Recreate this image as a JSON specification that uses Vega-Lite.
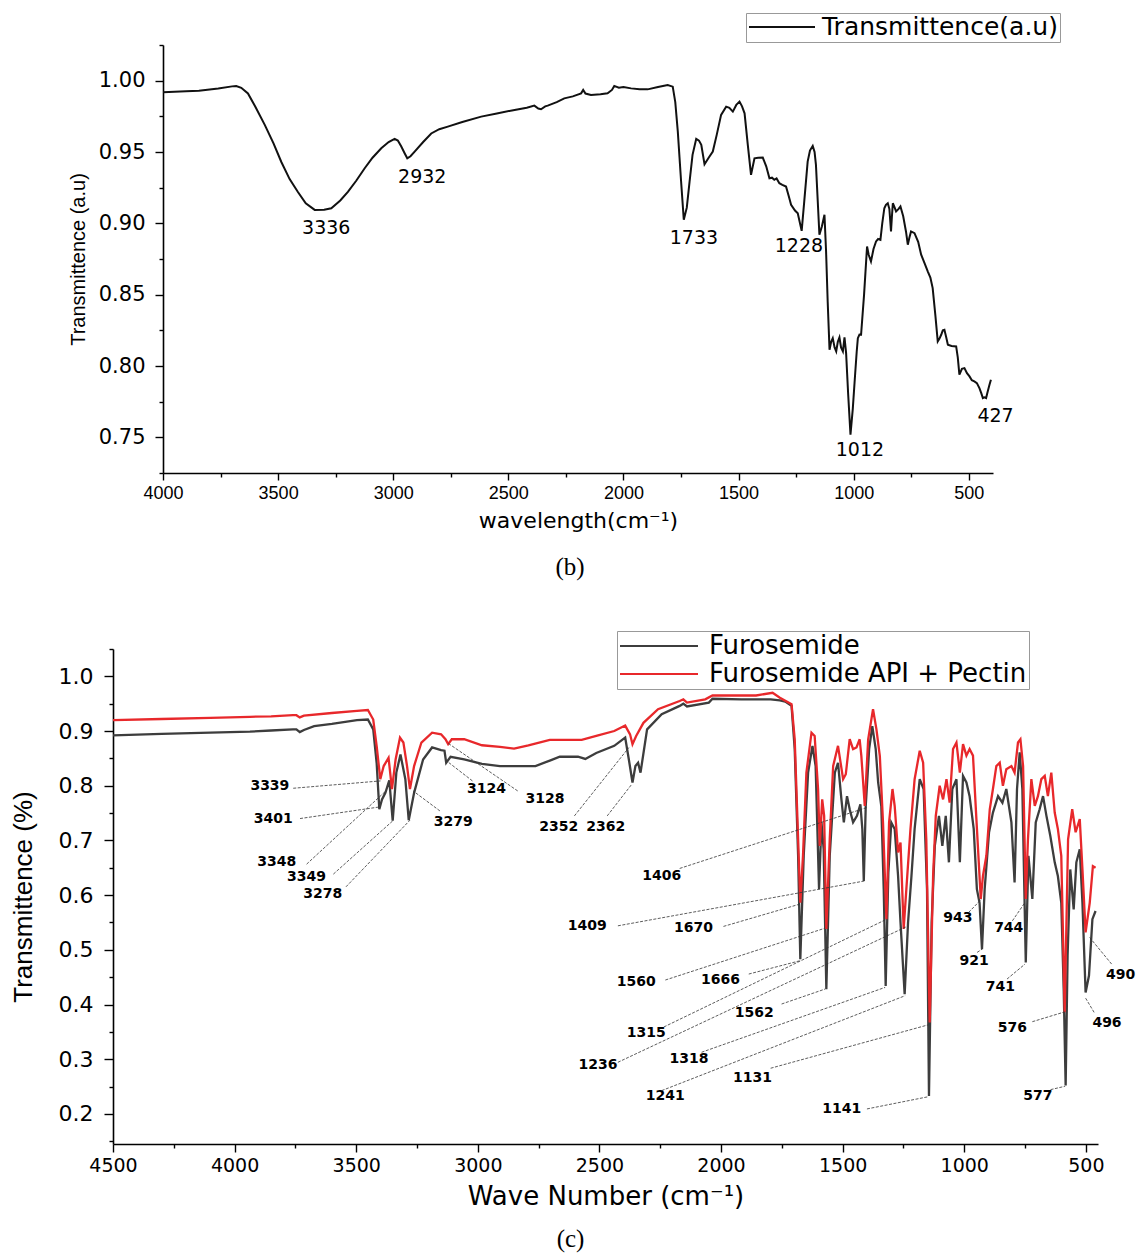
{
  "$schema": "https://vega.github.io/schema/vega-lite/v6.json",
  "background": "white",
  "padding": {"left": 9, "top": 12, "right": 5, "bottom": 2},
  "config": {
    "view": {"stroke": null},
    "axis": {"grid": false, "domainColor": "black", "tickColor": "black", "labelColor": "black", "titleColor": "black", "domainWidth": 1.6, "tickWidth": 1.4, "titleFontWeight": "normal"},
    "title": {"color": "black", "fontWeight": "normal"}
  },
  "datasets": {
    "top": [
      {"w":4000,"t":0.9918},{"w":3900,"t":0.9925},{"w":3844,"t":0.993},{"w":3760,"t":0.9945},{"w":3700,"t":0.996},{"w":3682,"t":0.9963},{"w":3660,"t":0.995},{"w":3631,"t":0.991},{"w":3600,"t":0.982},{"w":3558,"t":0.969},{"w":3520,"t":0.956},{"w":3486,"t":0.943},{"w":3450,"t":0.931},{"w":3414,"t":0.922},{"w":3380,"t":0.914},{"w":3341,"t":0.9094},{"w":3300,"t":0.9095},{"w":3269,"t":0.9106},{"w":3230,"t":0.916},{"w":3197,"t":0.922},{"w":3160,"t":0.93},{"w":3124,"t":0.9386},{"w":3090,"t":0.946},{"w":3052,"t":0.9526},{"w":3020,"t":0.957},{"w":2994,"t":0.9592},{"w":2980,"t":0.958},{"w":2965,"t":0.9538},{"w":2950,"t":0.949},{"w":2939,"t":0.9456},{"w":2925,"t":0.947},{"w":2907,"t":0.9503},{"w":2870,"t":0.957},{"w":2835,"t":0.963},{"w":2800,"t":0.966},{"w":2763,"t":0.9678},{"w":2700,"t":0.971},{"w":2618,"t":0.9748},{"w":2550,"t":0.977},{"w":2473,"t":0.9795},{"w":2420,"t":0.981},{"w":2387,"t":0.9825},{"w":2370,"t":0.9805},{"w":2358,"t":0.98},{"w":2340,"t":0.982},{"w":2329,"t":0.9825},{"w":2290,"t":0.985},{"w":2257,"t":0.9876},{"w":2220,"t":0.989},{"w":2184,"t":0.9911},{"w":2175,"t":0.9935},{"w":2165,"t":0.991},{"w":2141,"t":0.99},{"w":2100,"t":0.9905},{"w":2069,"t":0.9911},{"w":2050,"t":0.9935},{"w":2040,"t":0.9963},{"w":2020,"t":0.995},{"w":2000,"t":0.9955},{"w":1967,"t":0.9946},{"w":1930,"t":0.994},{"w":1895,"t":0.9939},{"w":1850,"t":0.9955},{"w":1808,"t":0.997},{"w":1786,"t":0.9958},{"w":1775,"t":0.985},{"w":1764,"t":0.9643},{"w":1750,"t":0.93},{"w":1738,"t":0.9025},{"w":1725,"t":0.911},{"w":1713,"t":0.929},{"w":1700,"t":0.948},{"w":1684,"t":0.9592},{"w":1672,"t":0.958},{"w":1662,"t":0.955},{"w":1648,"t":0.9414},{"w":1630,"t":0.946},{"w":1612,"t":0.9503},{"w":1595,"t":0.962},{"w":1576,"t":0.976},{"w":1554,"t":0.9818},{"w":1540,"t":0.981},{"w":1525,"t":0.9783},{"w":1510,"t":0.983},{"w":1496,"t":0.9853},{"w":1485,"t":0.982},{"w":1474,"t":0.9771},{"w":1460,"t":0.955},{"w":1446,"t":0.934},{"w":1431,"t":0.9456},{"w":1415,"t":0.946},{"w":1395,"t":0.9461},{"w":1380,"t":0.94},{"w":1366,"t":0.9316},{"w":1355,"t":0.932},{"w":1345,"t":0.9305},{"w":1335,"t":0.9315},{"w":1323,"t":0.9281},{"w":1310,"t":0.927},{"w":1294,"t":0.9258},{"w":1282,"t":0.919},{"w":1272,"t":0.913},{"w":1255,"t":0.909},{"w":1243,"t":0.9071},{"w":1226,"t":0.8947},{"w":1215,"t":0.915},{"w":1200,"t":0.9433},{"w":1190,"t":0.951},{"w":1178,"t":0.9543},{"w":1170,"t":0.95},{"w":1164,"t":0.941},{"w":1149,"t":0.892},{"w":1138,"t":0.898},{"w":1127,"t":0.906},{"w":1120,"t":0.8803},{"w":1113,"t":0.845},{"w":1105,"t":0.8114},{"w":1098,"t":0.817},{"w":1091,"t":0.8195},{"w":1083,"t":0.813},{"w":1076,"t":0.8102},{"w":1069,"t":0.817},{"w":1062,"t":0.82},{"w":1055,"t":0.813},{"w":1047,"t":0.8102},{"w":1040,"t":0.82},{"w":1033,"t":0.809},{"w":1024,"t":0.78},{"w":1014,"t":0.7519},{"w":1004,"t":0.77},{"w":994,"t":0.7939},{"w":987,"t":0.81},{"w":982,"t":0.8195},{"w":975,"t":0.822},{"w":968,"t":0.8219},{"w":955,"t":0.85},{"w":942,"t":0.8838},{"w":935,"t":0.878},{"w":925,"t":0.8733},{"w":914,"t":0.882},{"w":903,"t":0.8873},{"w":894,"t":0.889},{"w":884,"t":0.8884},{"w":876,"t":0.9},{"w":867,"t":0.9106},{"w":860,"t":0.913},{"w":852,"t":0.9141},{"w":845,"t":0.91},{"w":838,"t":0.8943},{"w":834,"t":0.905},{"w":830,"t":0.9141},{"w":822,"t":0.911},{"w":816,"t":0.9083},{"w":806,"t":0.91},{"w":797,"t":0.9118},{"w":785,"t":0.905},{"w":773,"t":0.8943},{"w":765,"t":0.885},{"w":758,"t":0.89},{"w":751,"t":0.8943},{"w":736,"t":0.8931},{"w":720,"t":0.887},{"w":707,"t":0.878},{"w":692,"t":0.872},{"w":678,"t":0.8662},{"w":667,"t":0.862},{"w":657,"t":0.8546},{"w":645,"t":0.835},{"w":635,"t":0.8172},{"w":628,"t":0.819},{"w":620,"t":0.8219},{"w":613,"t":0.825},{"w":606,"t":0.8254},{"w":598,"t":0.82},{"w":591,"t":0.8149},{"w":575,"t":0.814},{"w":555,"t":0.8137},{"w":548,"t":0.806},{"w":541,"t":0.7939},{"w":530,"t":0.798},{"w":519,"t":0.7985},{"w":508,"t":0.795},{"w":497,"t":0.7927},{"w":487,"t":0.79},{"w":476,"t":0.7892},{"w":465,"t":0.788},{"w":454,"t":0.7845},{"w":446,"t":0.781},{"w":439,"t":0.7775},{"w":432,"t":0.778},{"w":425,"t":0.7775},{"w":418,"t":0.7822},{"w":410,"t":0.787},{"w":404,"t":0.7904}
    ],
    "topLabels": [
      {"w":3291,"t":0.8966,"label":"3336"},{"w":2874,"t":0.9328,"label":"2932"},{"w":1694,"t":0.89,"label":"1733"},{"w":1238,"t":0.8838,"label":"1228"},{"w":973,"t":0.7409,"label":"1012"},{"w":384,"t":0.7647,"label":"427"}
    ],
    "bottom": [
      {"s":"Furosemide","w":4500,"t":0.892},{"s":"Furosemide","w":4300,"t":0.895},{"s":"Furosemide","w":4100,"t":0.897},{"s":"Furosemide","w":3937,"t":0.899},{"s":"Furosemide","w":3850,"t":0.901},{"s":"Furosemide","w":3760,"t":0.903},{"s":"Furosemide","w":3746,"t":0.903},{"s":"Furosemide","w":3732,"t":0.898},{"s":"Furosemide","w":3715,"t":0.902},{"s":"Furosemide","w":3673,"t":0.909},{"s":"Furosemide","w":3600,"t":0.913},{"s":"Furosemide","w":3497,"t":0.92},{"s":"Furosemide","w":3452,"t":0.921},{"s":"Furosemide","w":3430,"t":0.903},{"s":"Furosemide","w":3416,"t":0.842},{"s":"Furosemide","w":3405,"t":0.757},{"s":"Furosemide","w":3394,"t":0.775},{"s":"Furosemide","w":3380,"t":0.787},{"s":"Furosemide","w":3364,"t":0.81},{"s":"Furosemide","w":3350,"t":0.736},{"s":"Furosemide","w":3335,"t":0.824},{"s":"Furosemide","w":3318,"t":0.857},{"s":"Furosemide","w":3298,"t":0.812},{"s":"Furosemide","w":3284,"t":0.737},{"s":"Furosemide","w":3262,"t":0.787},{"s":"Furosemide","w":3225,"t":0.848},{"s":"Furosemide","w":3188,"t":0.87},{"s":"Furosemide","w":3151,"t":0.865},{"s":"Furosemide","w":3137,"t":0.864},{"s":"Furosemide","w":3130,"t":0.842},{"s":"Furosemide","w":3112,"t":0.853},{"s":"Furosemide","w":3056,"t":0.848},{"s":"Furosemide","w":2983,"t":0.84},{"s":"Furosemide","w":2909,"t":0.836},{"s":"Furosemide","w":2836,"t":0.836},{"s":"Furosemide","w":2763,"t":0.836},{"s":"Furosemide","w":2704,"t":0.846},{"s":"Furosemide","w":2663,"t":0.853},{"s":"Furosemide","w":2588,"t":0.853},{"s":"Furosemide","w":2558,"t":0.849},{"s":"Furosemide","w":2513,"t":0.86},{"s":"Furosemide","w":2439,"t":0.873},{"s":"Furosemide","w":2394,"t":0.888},{"s":"Furosemide","w":2379,"t":0.848},{"s":"Furosemide","w":2364,"t":0.806},{"s":"Furosemide","w":2352,"t":0.836},{"s":"Furosemide","w":2341,"t":0.842},{"s":"Furosemide","w":2331,"t":0.824},{"s":"Furosemide","w":2304,"t":0.903},{"s":"Furosemide","w":2244,"t":0.931},{"s":"Furosemide","w":2170,"t":0.946},{"s":"Furosemide","w":2155,"t":0.95},{"s":"Furosemide","w":2140,"t":0.945},{"s":"Furosemide","w":2050,"t":0.952},{"s":"Furosemide","w":2035,"t":0.959},{"s":"Furosemide","w":1916,"t":0.958},{"s":"Furosemide","w":1796,"t":0.958},{"s":"Furosemide","w":1758,"t":0.956},{"s":"Furosemide","w":1736,"t":0.954},{"s":"Furosemide","w":1710,"t":0.946},{"s":"Furosemide","w":1697,"t":0.867},{"s":"Furosemide","w":1683,"t":0.672},{"s":"Furosemide","w":1674,"t":0.483},{"s":"Furosemide","w":1660,"t":0.672},{"s":"Furosemide","w":1642,"t":0.824},{"s":"Furosemide","w":1624,"t":0.873},{"s":"Furosemide","w":1611,"t":0.836},{"s":"Furosemide","w":1597,"t":0.611},{"s":"Furosemide","w":1587,"t":0.733},{"s":"Furosemide","w":1578,"t":0.684},{"s":"Furosemide","w":1567,"t":0.428},{"s":"Furosemide","w":1553,"t":0.672},{"s":"Furosemide","w":1532,"t":0.824},{"s":"Furosemide","w":1519,"t":0.842},{"s":"Furosemide","w":1505,"t":0.775},{"s":"Furosemide","w":1495,"t":0.733},{"s":"Furosemide","w":1482,"t":0.781},{"s":"Furosemide","w":1471,"t":0.757},{"s":"Furosemide","w":1457,"t":0.733},{"s":"Furosemide","w":1441,"t":0.745},{"s":"Furosemide","w":1427,"t":0.766},{"s":"Furosemide","w":1419,"t":0.721},{"s":"Furosemide","w":1413,"t":0.626},{"s":"Furosemide","w":1405,"t":0.763},{"s":"Furosemide","w":1391,"t":0.867},{"s":"Furosemide","w":1378,"t":0.909},{"s":"Furosemide","w":1364,"t":0.867},{"s":"Furosemide","w":1354,"t":0.806},{"s":"Furosemide","w":1341,"t":0.763},{"s":"Furosemide","w":1331,"t":0.611},{"s":"Furosemide","w":1323,"t":0.434},{"s":"Furosemide","w":1312,"t":0.641},{"s":"Furosemide","w":1300,"t":0.733},{"s":"Furosemide","w":1286,"t":0.721},{"s":"Furosemide","w":1272,"t":0.635},{"s":"Furosemide","w":1262,"t":0.55},{"s":"Furosemide","w":1245,"t":0.419},{"s":"Furosemide","w":1231,"t":0.55},{"s":"Furosemide","w":1217,"t":0.635},{"s":"Furosemide","w":1204,"t":0.721},{"s":"Furosemide","w":1183,"t":0.812},{"s":"Furosemide","w":1167,"t":0.794},{"s":"Furosemide","w":1153,"t":0.611},{"s":"Furosemide","w":1145,"t":0.233},{"s":"Furosemide","w":1134,"t":0.55},{"s":"Furosemide","w":1121,"t":0.69},{"s":"Furosemide","w":1104,"t":0.745},{"s":"Furosemide","w":1090,"t":0.69},{"s":"Furosemide","w":1076,"t":0.745},{"s":"Furosemide","w":1063,"t":0.66},{"s":"Furosemide","w":1049,"t":0.794},{"s":"Furosemide","w":1032,"t":0.812},{"s":"Furosemide","w":1018,"t":0.66},{"s":"Furosemide","w":1005,"t":0.818},{"s":"Furosemide","w":991,"t":0.806},{"s":"Furosemide","w":978,"t":0.781},{"s":"Furosemide","w":961,"t":0.721},{"s":"Furosemide","w":948,"t":0.611},{"s":"Furosemide","w":937,"t":0.586},{"s":"Furosemide","w":927,"t":0.501},{"s":"Furosemide","w":916,"t":0.611},{"s":"Furosemide","w":898,"t":0.715},{"s":"Furosemide","w":882,"t":0.751},{"s":"Furosemide","w":861,"t":0.781},{"s":"Furosemide","w":843,"t":0.769},{"s":"Furosemide","w":827,"t":0.794},{"s":"Furosemide","w":806,"t":0.733},{"s":"Furosemide","w":793,"t":0.623},{"s":"Furosemide","w":783,"t":0.794},{"s":"Furosemide","w":772,"t":0.861},{"s":"Furosemide","w":761,"t":0.794},{"s":"Furosemide","w":747,"t":0.477},{"s":"Furosemide","w":736,"t":0.672},{"s":"Furosemide","w":720,"t":0.593},{"s":"Furosemide","w":706,"t":0.733},{"s":"Furosemide","w":690,"t":0.757},{"s":"Furosemide","w":676,"t":0.781},{"s":"Furosemide","w":662,"t":0.745},{"s":"Furosemide","w":646,"t":0.708},{"s":"Furosemide","w":628,"t":0.66},{"s":"Furosemide","w":615,"t":0.635},{"s":"Furosemide","w":601,"t":0.586},{"s":"Furosemide","w":591,"t":0.428},{"s":"Furosemide","w":583,"t":0.252},{"s":"Furosemide","w":575,"t":0.489},{"s":"Furosemide","w":564,"t":0.647},{"s":"Furosemide","w":550,"t":0.574},{"s":"Furosemide","w":539,"t":0.66},{"s":"Furosemide","w":525,"t":0.684},{"s":"Furosemide","w":514,"t":0.586},{"s":"Furosemide","w":501,"t":0.422},{"s":"Furosemide","w":487,"t":0.453},{"s":"Furosemide","w":473,"t":0.556},{"s":"Furosemide","w":460,"t":0.571},
      {"s":"Furosemide API + Pectin","w":4500,"t":0.92},{"s":"Furosemide API + Pectin","w":4300,"t":0.922},{"s":"Furosemide API + Pectin","w":4100,"t":0.924},{"s":"Furosemide API + Pectin","w":3937,"t":0.926},{"s":"Furosemide API + Pectin","w":3850,"t":0.927},{"s":"Furosemide API + Pectin","w":3760,"t":0.929},{"s":"Furosemide API + Pectin","w":3746,"t":0.929},{"s":"Furosemide API + Pectin","w":3732,"t":0.925},{"s":"Furosemide API + Pectin","w":3715,"t":0.928},{"s":"Furosemide API + Pectin","w":3600,"t":0.933},{"s":"Furosemide API + Pectin","w":3497,"t":0.937},{"s":"Furosemide API + Pectin","w":3452,"t":0.9385},{"s":"Furosemide API + Pectin","w":3430,"t":0.921},{"s":"Furosemide API + Pectin","w":3416,"t":0.873},{"s":"Furosemide API + Pectin","w":3401,"t":0.812},{"s":"Furosemide API + Pectin","w":3387,"t":0.836},{"s":"Furosemide API + Pectin","w":3367,"t":0.851},{"s":"Furosemide API + Pectin","w":3353,"t":0.794},{"s":"Furosemide API + Pectin","w":3338,"t":0.848},{"s":"Furosemide API + Pectin","w":3320,"t":0.888},{"s":"Furosemide API + Pectin","w":3306,"t":0.879},{"s":"Furosemide API + Pectin","w":3291,"t":0.836},{"s":"Furosemide API + Pectin","w":3279,"t":0.794},{"s":"Furosemide API + Pectin","w":3262,"t":0.836},{"s":"Furosemide API + Pectin","w":3232,"t":0.879},{"s":"Furosemide API + Pectin","w":3188,"t":0.897},{"s":"Furosemide API + Pectin","w":3151,"t":0.894},{"s":"Furosemide API + Pectin","w":3133,"t":0.885},{"s":"Furosemide API + Pectin","w":3122,"t":0.876},{"s":"Furosemide API + Pectin","w":3107,"t":0.885},{"s":"Furosemide API + Pectin","w":3056,"t":0.885},{"s":"Furosemide API + Pectin","w":2983,"t":0.874},{"s":"Furosemide API + Pectin","w":2909,"t":0.871},{"s":"Furosemide API + Pectin","w":2851,"t":0.868},{"s":"Furosemide API + Pectin","w":2792,"t":0.874},{"s":"Furosemide API + Pectin","w":2704,"t":0.884},{"s":"Furosemide API + Pectin","w":2663,"t":0.884},{"s":"Furosemide API + Pectin","w":2573,"t":0.884},{"s":"Furosemide API + Pectin","w":2513,"t":0.891},{"s":"Furosemide API + Pectin","w":2439,"t":0.9},{"s":"Furosemide API + Pectin","w":2394,"t":0.91},{"s":"Furosemide API + Pectin","w":2374,"t":0.894},{"s":"Furosemide API + Pectin","w":2364,"t":0.876},{"s":"Furosemide API + Pectin","w":2349,"t":0.891},{"s":"Furosemide API + Pectin","w":2319,"t":0.915},{"s":"Furosemide API + Pectin","w":2259,"t":0.94},{"s":"Furosemide API + Pectin","w":2170,"t":0.955},{"s":"Furosemide API + Pectin","w":2155,"t":0.958},{"s":"Furosemide API + Pectin","w":2140,"t":0.952},{"s":"Furosemide API + Pectin","w":2065,"t":0.958},{"s":"Furosemide API + Pectin","w":2035,"t":0.965},{"s":"Furosemide API + Pectin","w":1945,"t":0.965},{"s":"Furosemide API + Pectin","w":1856,"t":0.965},{"s":"Furosemide API + Pectin","w":1788,"t":0.97},{"s":"Furosemide API + Pectin","w":1758,"t":0.961},{"s":"Furosemide API + Pectin","w":1710,"t":0.949},{"s":"Furosemide API + Pectin","w":1697,"t":0.885},{"s":"Furosemide API + Pectin","w":1683,"t":0.702},{"s":"Furosemide API + Pectin","w":1674,"t":0.586},{"s":"Furosemide API + Pectin","w":1663,"t":0.672},{"s":"Furosemide API + Pectin","w":1649,"t":0.824},{"s":"Furosemide API + Pectin","w":1628,"t":0.897},{"s":"Furosemide API + Pectin","w":1615,"t":0.891},{"s":"Furosemide API + Pectin","w":1601,"t":0.794},{"s":"Furosemide API + Pectin","w":1594,"t":0.69},{"s":"Furosemide API + Pectin","w":1584,"t":0.775},{"s":"Furosemide API + Pectin","w":1576,"t":0.745},{"s":"Furosemide API + Pectin","w":1567,"t":0.538},{"s":"Furosemide API + Pectin","w":1553,"t":0.702},{"s":"Furosemide API + Pectin","w":1539,"t":0.836},{"s":"Furosemide API + Pectin","w":1519,"t":0.873},{"s":"Furosemide API + Pectin","w":1498,"t":0.812},{"s":"Furosemide API + Pectin","w":1487,"t":0.821},{"s":"Furosemide API + Pectin","w":1471,"t":0.885},{"s":"Furosemide API + Pectin","w":1457,"t":0.867},{"s":"Furosemide API + Pectin","w":1443,"t":0.87},{"s":"Furosemide API + Pectin","w":1430,"t":0.885},{"s":"Furosemide API + Pectin","w":1423,"t":0.854},{"s":"Furosemide API + Pectin","w":1409,"t":0.763},{"s":"Furosemide API + Pectin","w":1395,"t":0.885},{"s":"Furosemide API + Pectin","w":1375,"t":0.94},{"s":"Furosemide API + Pectin","w":1361,"t":0.903},{"s":"Furosemide API + Pectin","w":1347,"t":0.854},{"s":"Furosemide API + Pectin","w":1334,"t":0.733},{"s":"Furosemide API + Pectin","w":1320,"t":0.556},{"s":"Furosemide API + Pectin","w":1309,"t":0.733},{"s":"Furosemide API + Pectin","w":1295,"t":0.794},{"s":"Furosemide API + Pectin","w":1286,"t":0.763},{"s":"Furosemide API + Pectin","w":1272,"t":0.678},{"s":"Furosemide API + Pectin","w":1262,"t":0.696},{"s":"Furosemide API + Pectin","w":1249,"t":0.538},{"s":"Furosemide API + Pectin","w":1238,"t":0.611},{"s":"Furosemide API + Pectin","w":1221,"t":0.721},{"s":"Furosemide API + Pectin","w":1204,"t":0.812},{"s":"Furosemide API + Pectin","w":1183,"t":0.864},{"s":"Furosemide API + Pectin","w":1169,"t":0.842},{"s":"Furosemide API + Pectin","w":1156,"t":0.702},{"s":"Furosemide API + Pectin","w":1142,"t":0.367},{"s":"Furosemide API + Pectin","w":1128,"t":0.635},{"s":"Furosemide API + Pectin","w":1117,"t":0.745},{"s":"Furosemide API + Pectin","w":1101,"t":0.8},{"s":"Furosemide API + Pectin","w":1087,"t":0.775},{"s":"Furosemide API + Pectin","w":1073,"t":0.812},{"s":"Furosemide API + Pectin","w":1060,"t":0.769},{"s":"Furosemide API + Pectin","w":1046,"t":0.867},{"s":"Furosemide API + Pectin","w":1032,"t":0.879},{"s":"Furosemide API + Pectin","w":1018,"t":0.824},{"s":"Furosemide API + Pectin","w":1005,"t":0.876},{"s":"Furosemide API + Pectin","w":991,"t":0.855},{"s":"Furosemide API + Pectin","w":978,"t":0.867},{"s":"Furosemide API + Pectin","w":964,"t":0.855},{"s":"Furosemide API + Pectin","w":950,"t":0.739},{"s":"Furosemide API + Pectin","w":939,"t":0.65},{"s":"Furosemide API + Pectin","w":932,"t":0.593},{"s":"Furosemide API + Pectin","w":923,"t":0.635},{"s":"Furosemide API + Pectin","w":909,"t":0.672},{"s":"Furosemide API + Pectin","w":895,"t":0.757},{"s":"Furosemide API + Pectin","w":882,"t":0.794},{"s":"Furosemide API + Pectin","w":868,"t":0.836},{"s":"Furosemide API + Pectin","w":854,"t":0.842},{"s":"Furosemide API + Pectin","w":841,"t":0.8},{"s":"Furosemide API + Pectin","w":827,"t":0.83},{"s":"Furosemide API + Pectin","w":806,"t":0.836},{"s":"Furosemide API + Pectin","w":793,"t":0.824},{"s":"Furosemide API + Pectin","w":779,"t":0.879},{"s":"Furosemide API + Pectin","w":769,"t":0.885},{"s":"Furosemide API + Pectin","w":758,"t":0.836},{"s":"Furosemide API + Pectin","w":747,"t":0.593},{"s":"Furosemide API + Pectin","w":738,"t":0.702},{"s":"Furosemide API + Pectin","w":724,"t":0.812},{"s":"Furosemide API + Pectin","w":710,"t":0.763},{"s":"Furosemide API + Pectin","w":697,"t":0.781},{"s":"Furosemide API + Pectin","w":683,"t":0.812},{"s":"Furosemide API + Pectin","w":669,"t":0.818},{"s":"Furosemide API + Pectin","w":656,"t":0.781},{"s":"Furosemide API + Pectin","w":642,"t":0.824},{"s":"Furosemide API + Pectin","w":628,"t":0.751},{"s":"Furosemide API + Pectin","w":615,"t":0.721},{"s":"Furosemide API + Pectin","w":601,"t":0.672},{"s":"Furosemide API + Pectin","w":587,"t":0.386},{"s":"Furosemide API + Pectin","w":573,"t":0.702},{"s":"Furosemide API + Pectin","w":556,"t":0.757},{"s":"Furosemide API + Pectin","w":542,"t":0.715},{"s":"Furosemide API + Pectin","w":525,"t":0.739},{"s":"Furosemide API + Pectin","w":514,"t":0.647},{"s":"Furosemide API + Pectin","w":501,"t":0.532},{"s":"Furosemide API + Pectin","w":484,"t":0.586},{"s":"Furosemide API + Pectin","w":471,"t":0.653},{"s":"Furosemide API + Pectin","w":460,"t":0.65}
    ],
    "bottomLabels": [
      {"w":3855,"t":0.7996,"label":"3339"},{"w":3841,"t":0.7388,"label":"3401"},{"w":3827,"t":0.6597,"label":"3348"},{"w":3704,"t":0.6323,"label":"3349"},{"w":3638,"t":0.6018,"label":"3278"},{"w":3101,"t":0.7328,"label":"3279"},{"w":2964,"t":0.7949,"label":"3124"},{"w":2724,"t":0.7766,"label":"3128"},{"w":2667,"t":0.7242,"label":"2352"},{"w":2474,"t":0.7242,"label":"2362"},{"w":2244,"t":0.6353,"label":"1406"},{"w":2550,"t":0.5428,"label":"1409"},{"w":2113,"t":0.5397,"label":"1670"},{"w":2349,"t":0.4406,"label":"1560"},{"w":2002,"t":0.4453,"label":"1666"},{"w":2307,"t":0.3474,"label":"1315"},{"w":1863,"t":0.3845,"label":"1562"},{"w":2506,"t":0.2895,"label":"1236"},{"w":2132,"t":0.3005,"label":"1318"},{"w":2229,"t":0.2323,"label":"1241"},{"w":1871,"t":0.2652,"label":"1131"},{"w":1504,"t":0.2091,"label":"1141"},{"w":1026,"t":0.558,"label":"943"},{"w":959,"t":0.48,"label":"921"},{"w":817,"t":0.5397,"label":"744"},{"w":851,"t":0.4314,"label":"741"},{"w":802,"t":0.3571,"label":"576"},{"w":697,"t":0.2323,"label":"577"},{"w":413,"t":0.3657,"label":"496"},{"w":357,"t":0.4539,"label":"490"}
    ],
    "leaders": [
      {"x1":3759,"y1":0.7954,"x2":3400,"y2":0.8088},{"x1":3731,"y1":0.74,"x2":3403,"y2":0.7613},{"x1":3704,"y1":0.6566,"x2":3378,"y2":0.7905},{"x1":3594,"y1":0.6384,"x2":3350,"y2":0.7357},{"x1":3542,"y1":0.6152,"x2":3279,"y2":0.737},{"x1":3156,"y1":0.754,"x2":3266,"y2":0.7905},{"x1":3022,"y1":0.8088,"x2":3128,"y2":0.8453},{"x1":2836,"y1":0.7905,"x2":3122,"y2":0.8776},{"x1":2603,"y1":0.7448,"x2":2379,"y2":0.8698},{"x1":2468,"y1":0.7448,"x2":2367,"y2":0.8027},{"x1":2170,"y1":0.6488,"x2":1400,"y2":0.7602},{"x1":2424,"y1":0.5439,"x2":1407,"y2":0.6261},{"x1":1990,"y1":0.5428,"x2":1676,"y2":0.5836},{"x1":2229,"y1":0.4448,"x2":1575,"y2":0.5392},{"x1":1886,"y1":0.4557,"x2":1676,"y2":0.48},{"x1":2252,"y1":0.3553,"x2":1318,"y2":0.5562},{"x1":1751,"y1":0.4009,"x2":1572,"y2":0.4283},{"x1":2424,"y1":0.2944,"x2":1235,"y2":0.5428},{"x1":2080,"y1":0.3127,"x2":1325,"y2":0.4314},{"x1":2244,"y1":0.2426,"x2":1243,"y2":0.4161},{"x1":1796,"y1":0.2835,"x2":1146,"y2":0.3631},{"x1":1400,"y1":0.2091,"x2":1146,"y2":0.2316},{"x1":982,"y1":0.5684,"x2":929,"y2":0.5927},{"x1":947,"y1":0.4953,"x2":926,"y2":0.5014},{"x1":802,"y1":0.553,"x2":750,"y2":0.5867},{"x1":824,"y1":0.4466,"x2":750,"y2":0.474},{"x1":720,"y1":0.3686,"x2":585,"y2":0.3868},{"x1":645,"y1":0.2444,"x2":585,"y2":0.2506},{"x1":466,"y1":0.3857,"x2":503,"y2":0.4132},{"x1":394,"y1":0.474,"x2":488,"y2":0.5246}
    ]
  },
  "resolve": {"scale": {"color": "independent"}, "legend": {"color": "independent"}},
  "spacing": 50,
  "vconcat": [
    {
      "spacing": 0,
      "hconcat": [
        {"width": 59, "height": 20, "data": {"values": [{"a": 1}]}, "mark": {"type": "point", "opacity": 0, "size": 1}},
        {
          "width": 830,
          "height": 428,
          "title": {"text": "(b)", "orient": "bottom", "font": "Liberation Serif", "fontSize": 25, "fontWeight": "normal", "color": "black", "offset": 24, "dx": -8},
          "layer": [
            {
              "data": {"name": "top"},
              "mark": {"type": "line", "strokeWidth": 2, "clip": true},
              "encoding": {
                "x": {"field": "w", "type": "quantitative", "scale": {"domain": [395, 4000], "reverse": true, "nice": false, "zero": false},
                  "axis": {"orient": "bottom", "values": [500, 1000, 1500, 2000, 2500, 3000, 3500, 4000], "format": "d", "labelFlush": false, "title": "wavelength(cm⁻¹)", "titleFont": "DejaVu Sans", "titleFontSize": 22, "titlePadding": 8, "labelFont": "Liberation Sans", "labelFontSize": 18, "labelPadding": 4, "tickSize": 7}},
                "y": {"field": "t", "type": "quantitative", "scale": {"domain": [0.725, 1.025], "nice": false, "zero": false},
                  "axis": {"orient": "left", "values": [0.75, 0.8, 0.85, 0.9, 0.95, 1.0], "format": ".2f", "title": "Transmittence (a.u)", "titleFont": "Liberation Sans", "titleFontSize": 20, "titlePadding": 10, "labelFont": "DejaVu Sans", "labelFontSize": 21, "labelPadding": 10, "tickSize": 8}},
                "color": {"datum": "Transmittence(a.u)", "type": "nominal", "scale": {"range": ["#111111"]},
                  "legend": {"orient": "none", "legendX": 737, "legendY": -32, "title": null, "strokeColor": "#999999", "fillColor": "white", "padding": 2, "symbolType": "stroke", "symbolSize": 4356, "symbolStrokeWidth": 1.8, "labelFont": "DejaVu Sans", "labelFontSize": 25, "labelColor": "black", "labelOffset": 6, "labelLimit": 600, "clipHeight": 24}}
              }
            },
            {
              "data": {"name": "top"},
              "mark": {"type": "point", "opacity": 0},
              "encoding": {
                "x": {"field": "w", "type": "quantitative", "axis": {"orient": "bottom", "values": [750, 1250, 1750, 2250, 2750, 3250, 3750], "labels": false, "domain": false, "title": null, "tickSize": 4}},
                "y": {"field": "t", "type": "quantitative", "axis": {"orient": "left", "values": [0.725, 0.775, 0.825, 0.875, 0.925, 0.975, 1.025], "labels": false, "domain": false, "title": null, "tickSize": 4}}
              }
            },
            {
              "data": {"name": "topLabels"},
              "mark": {"type": "text", "font": "DejaVu Sans", "fontSize": 19, "color": "black", "align": "center", "baseline": "middle", "clip": false},
              "encoding": {
                "x": {"field": "w", "type": "quantitative", "axis": null},
                "y": {"field": "t", "type": "quantitative", "axis": null},
                "text": {"field": "label"}
              }
            }
          ],
          "resolve": {"axis": {"x": "independent", "y": "independent"}}
        }
      ]
    },
    {
      "spacing": 0,
      "hconcat": [
        {"width": 1, "height": 20, "data": {"values": [{"a": 1}]}, "mark": {"type": "point", "opacity": 0, "size": 1}},
        {
          "width": 985,
          "height": 495,
          "title": {"text": "(c)", "orient": "bottom", "font": "Liberation Serif", "fontSize": 25, "fontWeight": "normal", "color": "black", "offset": 18, "dx": -35},
          "layer": [
            {
              "data": {"name": "bottom"},
              "mark": {"type": "line", "strokeWidth": 2.3, "clip": true},
              "encoding": {
                "x": {"field": "w", "type": "quantitative", "scale": {"domain": [450, 4500], "reverse": true, "nice": false, "zero": false},
                  "axis": {"orient": "bottom", "values": [500, 1000, 1500, 2000, 2500, 3000, 3500, 4000, 4500], "format": "d", "labelFlush": false, "title": "Wave Number (cm⁻¹)", "titleFont": "DejaVu Sans", "titleFontSize": 26, "titlePadding": 8, "labelFont": "DejaVu Sans", "labelFontSize": 19, "labelPadding": 4, "tickSize": 8}},
                "y": {"field": "t", "type": "quantitative", "scale": {"domain": [0.145, 1.05], "nice": false, "zero": false},
                  "axis": {"orient": "left", "values": [0.2, 0.3, 0.4, 0.5, 0.6, 0.7, 0.8, 0.9, 1.0], "format": ".1f", "title": "Transmittence (%)", "titleFont": "Liberation Sans", "titleFontSize": 26, "titlePadding": 22, "labelFont": "DejaVu Sans", "labelFontSize": 22, "labelPadding": 11, "tickSize": 9}},
                "color": {"field": "s", "type": "nominal", "scale": {"domain": ["Furosemide", "Furosemide API + Pectin"], "range": ["#3d3d3d", "#e8282b"]},
                  "legend": {"orient": "none", "legendX": 608, "legendY": -18, "title": null, "strokeColor": "#999999", "fillColor": "white", "padding": 2, "symbolType": "stroke", "symbolSize": 6084, "symbolStrokeWidth": 1.8, "labelFont": "DejaVu Sans", "labelFontSize": 26, "labelColor": "black", "labelOffset": 10, "labelLimit": 600, "clipHeight": 26, "rowPadding": 2}}
              }
            },
            {
              "data": {"name": "bottom"},
              "mark": {"type": "point", "opacity": 0},
              "encoding": {
                "x": {"field": "w", "type": "quantitative", "axis": {"orient": "bottom", "values": [750, 1250, 1750, 2250, 2750, 3250, 3750, 4250], "labels": false, "domain": false, "title": null, "tickSize": 4}},
                "y": {"field": "t", "type": "quantitative", "axis": {"orient": "left", "values": [0.15, 0.25, 0.35, 0.45, 0.55, 0.65, 0.75, 0.85, 0.95, 1.05], "labels": false, "domain": false, "title": null, "tickSize": 4}}
              }
            },
            {
              "data": {"name": "leaders"},
              "mark": {"type": "rule", "strokeWidth": 0.8, "strokeDash": [3, 1.5], "color": "#333333", "clip": false},
              "encoding": {
                "x": {"field": "x1", "type": "quantitative", "axis": null},
                "y": {"field": "y1", "type": "quantitative", "axis": null},
                "x2": {"field": "x2"},
                "y2": {"field": "y2"}
              }
            },
            {
              "data": {"name": "bottomLabels"},
              "mark": {"type": "text", "font": "DejaVu Sans", "fontWeight": "bold", "fontSize": 14, "color": "black", "align": "center", "baseline": "middle", "clip": false},
              "encoding": {
                "x": {"field": "w", "type": "quantitative", "axis": null},
                "y": {"field": "t", "type": "quantitative", "axis": null},
                "text": {"field": "label"}
              }
            }
          ],
          "resolve": {"axis": {"x": "independent", "y": "independent"}}
        }
      ]
    }
  ]
}
